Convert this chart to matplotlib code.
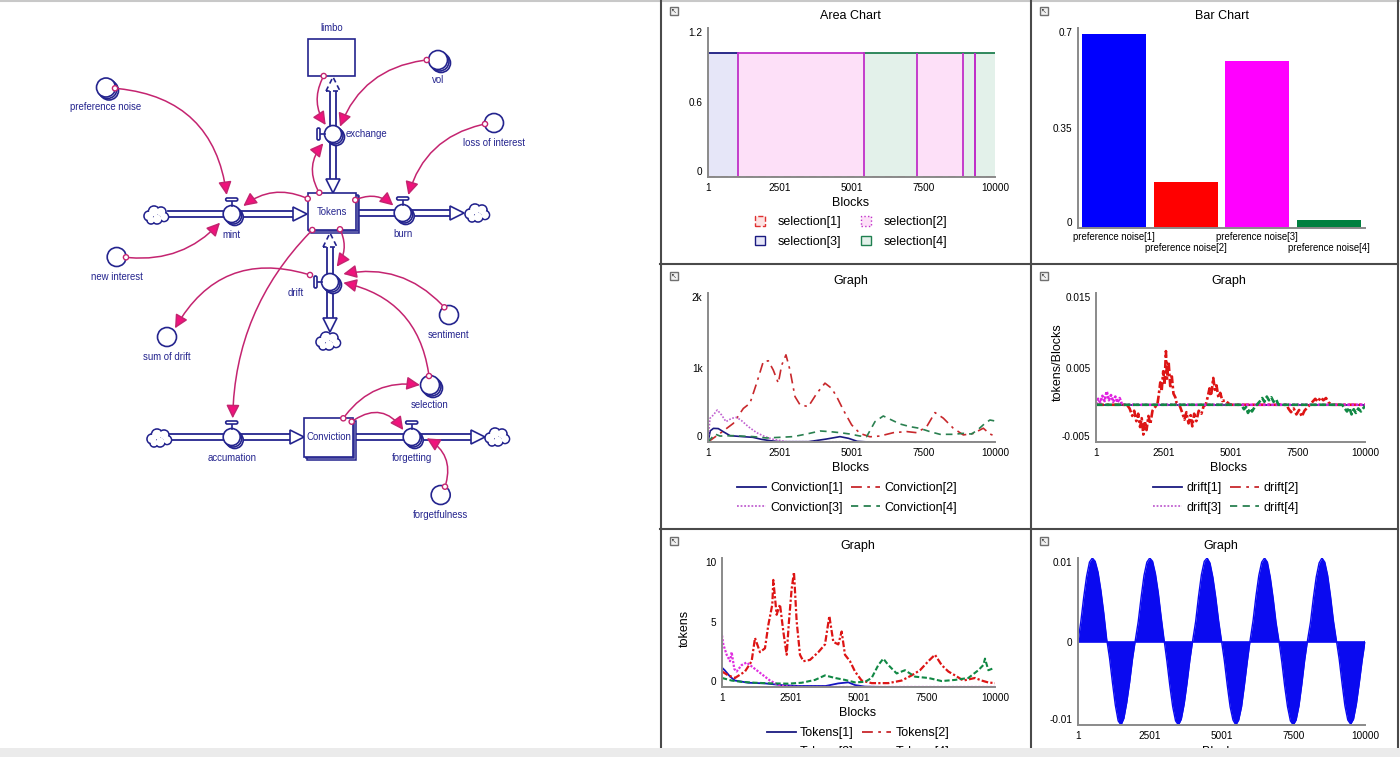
import numpy as np
import matplotlib.pyplot as plt
import matplotlib.transforms as mtransforms
from matplotlib.patches import Circle, Rectangle, Polygon, FancyArrowPatch, FancyBboxPatch, Patch
from matplotlib.lines import Line2D

plt.rcParams['font.family'] = ['Liberation Sans', 'DejaVu Sans']

# ---------------- data ----------------
block_ticks = [1, 2501, 5001, 7500, 10000]

# area chart: which selection is active from each block on
sel_x = [1, 1056, 5447, 7270, 8895, 9290, 9310, 10000]
sel1 = [0, 0, 0, 0, 0, 0, 0, 0]
sel2 = [0, 1, 0, 1, 0, 1, 0, 0]
sel3 = [1, 0, 0, 0, 0, 0, 0, 0]
sel4 = [0, 0, 1, 0, 1, 0, 1, 1]

bar_labels = ['preference noise[1]', 'preference noise[2]', 'preference noise[3]', 'preference noise[4]']
bar_vals = [0.678, 0.162, 0.585, 0.029]

conv1_x = [1, 80, 190, 360, 530, 770, 1200, 1560, 1860, 2160, 2500, 3500, 4130, 4600, 4900, 5200, 5600, 10000]
conv1_y = [0, 150, 183, 180, 139, 85, 72, 63, 36, 18, 4, 4, 40, 72, 49, 9, 0, 0]
conv2_x = [1, 418, 883, 1231, 1463, 1696, 1928, 2102, 2276, 2450, 2567, 2717, 2857, 3031, 3205, 3496, 3786,
           4076, 4308, 4483, 4715, 5005, 5295, 5644, 5992, 6457, 6921, 7270, 7618, 7909, 8199, 8547, 8896,
           9244, 9592, 9824, 10000]
conv2_y = [0, 115, 250, 450, 520, 790, 1080, 1090, 965, 790, 1030, 1170, 965, 610, 500, 475, 650,
           790, 720, 610, 430, 230, 115, 70, 80, 125, 140, 125, 205, 395, 320, 185, 95,
           115, 185, 107, 80]
conv3_x = [1, 70, 186, 325, 476, 627, 824, 999, 1173, 1405, 1696, 1986, 2276, 2741, 10000]
conv3_y = [0, 318, 362, 430, 362, 273, 318, 331, 286, 206, 125, 72, 36, 4, 0]
conv4_x = [1, 244, 418, 883, 1579, 2044, 2508, 2973, 3437, 3902, 4250, 4599, 4947, 5296, 5528, 5818, 6108,
           6399, 6689, 7037, 7386, 7734, 8083, 8547, 8896, 9186, 9418, 9650, 9824, 10000]
conv4_y = [0, 107, 80, 85, 72, 54, 63, 72, 107, 148, 139, 125, 107, 80, 72, 273, 349,
           295, 242, 206, 183, 139, 103, 103, 116, 107, 170, 250, 295, 282]

# drift values in thousandths
drift2_x = [1, 1150, 1250, 1350, 1420, 1500, 1570, 1640, 1700, 1760, 1820, 1880, 1950, 2020, 2100, 2200,
            2280, 2330, 2390, 2440, 2500, 2550, 2600, 2640, 2700, 2760, 2820, 2880, 2950, 3000, 3100,
            3200, 3290, 3360, 3440, 3520, 3580, 3650, 3730, 3820, 3920, 4000, 4080, 4150, 4220, 4280,
            4360, 4420, 4480, 4550, 4620, 4700, 4800, 4950, 5050, 7100, 7150, 7250, 7350, 7450, 7550,
            7650, 7750, 7850, 7950, 8050, 8150, 8250, 8350, 8450, 8550, 8650, 8760, 10000]
drift2_y = [0, 0, -0.5, -1.5, -0.8, -2.2, -1.2, -3.0, -1.8, -4.0, -2.2, -3.4, -1.5, -2.6, -0.8, -0.3,
            0, 1.2, 3.0, 1.8, 4.5, 2.8, 7.2, 3.5, 5.8, 2.5, 3.8, 1.5, 1.0, 0.2, 0,
            -1.0, -2.0, -1.0, -2.5, -1.4, -2.9, -1.2, -2.2, -0.8, -1.2, -0.2, 0, 1.0, 2.2, 1.2,
            3.6, 2.0, 2.6, 1.0, 1.6, 0.5, 0.6, 0.1, 0, 0, -0.5, -1.0, -0.5, -1.3, -0.7,
            -1.6, -0.8, -0.4, 0, 0.4, 0.8, 0.4, 1.0, 0.6, 0.9, 0.3, 0, 0]
drift3_x = [1, 80, 160, 240, 320, 400, 480, 560, 640, 720, 800, 880, 950, 1000, 10000]
drift3_y = [0, 0.8, 0.3, 1.2, 0.5, 1.8, 0.6, 1.3, 0.4, 1.1, 0.3, 0.9, 0.2, 0, 0]
drift4_x = [1, 5400, 5500, 5580, 5650, 5730, 5800, 5900, 5980, 6100, 6180, 6260, 6350, 6430, 6520, 6600,
            6700, 6780, 9150, 9250, 9330, 9420, 9500, 9580, 9660, 9750, 9850, 9950, 10000]
drift4_y = [0, 0, -0.6, -0.3, -1.1, -0.5, -0.9, -0.3, 0, 0.5, 0.9, 0.4, 1.1, 0.6, 1.0, 0.4,
            0.7, 0, 0, -0.5, -0.9, -0.4, -1.3, -0.6, -1.1, -0.5, -0.9, -0.4, -0.2]
drift1_x = [1, 10000]
drift1_y = [0, 0]

tok1_x = [1, 100, 300, 476, 964, 1575, 2186, 2800, 3800, 4261, 4627, 4872, 5238, 6000, 10000]
tok1_y = [1.5, 1.3, 0.8, 0.5, 0.33, 0.28, 0.15, 0.08, 0.08, 0.28, 0.36, 0.15, 0.03, 0, 0]
tok2_x = [1, 232, 476, 842, 1087, 1209, 1392, 1575, 1697, 1844, 1880, 2002, 2125, 2247, 2369, 2454,
          2552, 2637, 2735, 2857, 2979, 3223, 3529, 3773, 3932, 4078, 4261, 4383, 4505, 4689, 4872,
          5116, 5482, 6093, 6581, 6947, 7253, 7558, 7802, 8046, 8291, 8535, 8840, 9267, 9511, 9756, 10000]
tok2_y = [1.2, 0.9, 0.7, 1.2, 2.0, 3.8, 2.7, 3.0, 4.8, 6.4, 8.3, 5.6, 6.4, 4.3, 2.5, 5.1,
          7.6, 8.9, 5.1, 2.5, 2.0, 2.1, 2.7, 3.3, 5.5, 3.5, 3.3, 4.3, 2.5, 2.0, 1.2,
          0.5, 0.3, 0.3, 0.5, 0.9, 1.3, 2.0, 2.5, 1.7, 1.2, 0.9, 0.5, 0.7, 0.5, 0.35, 0.3]
tok3_x = [1, 50, 171, 293, 354, 452, 537, 720, 903, 1087, 1270, 1514, 1758, 2063, 2430, 3000, 10000]
tok3_y = [4.0, 3.3, 2.5, 2.0, 2.7, 1.4, 1.2, 1.7, 1.9, 1.6, 1.3, 0.9, 0.5, 0.15, 0.03, 0, 0]
tok4_x = [1, 354, 720, 1209, 1819, 2430, 2918, 3407, 3773, 4139, 4505, 4872, 5238, 5482, 5726, 5910,
          6093, 6398, 6703, 7070, 7558, 8046, 8535, 9023, 9389, 9572, 9633, 9756, 9939]
tok4_y = [0.7, 0.5, 0.4, 0.33, 0.28, 0.26, 0.33, 0.55, 0.9, 0.7, 0.55, 0.36, 0.4, 0.7, 1.7, 2.2,
          1.7, 1.05, 1.3, 0.8, 0.7, 0.46, 0.55, 0.7, 1.3, 1.7, 2.2, 1.3, 1.45]

# last graph, every 100 blocks, in thousandths
wave_y = [0, 2.4, 5.3, 7.8, 9.5, 10.0, 9.6, 8.3, 6.1, 3.4, 0.3,
          -2.0, -4.9, -7.6, -9.5, -10.0, -9.2, -7.3, -4.9, -2.1, 0.2,
          2.4, 5.3, 7.9, 9.5, 10.0, 9.6, 8.1, 5.8, 2.9, 0.2,
          -2.4, -5.3, -7.8, -9.5, -10.0, -9.3, -7.5, -5.0, -2.2, 0.2,
          2.4, 5.4, 8.0, 9.6, 10.0, 9.4, 7.7, 5.3, 2.5, 0.1,
          -2.3, -5.2, -7.8, -9.4, -10.0, -9.4, -7.8, -5.2, -2.4, 0.2,
          2.5, 5.4, 7.9, 9.5, 10.0, 9.5, 7.7, 5.2, 2.3, 0.1,
          -2.4, -5.3, -7.8, -9.5, -10.0, -9.4, -7.7, -5.1, -2.2, 0.2,
          2.3, 5.2, 7.7, 9.4, 10.0, 9.5, 7.9, 5.4, 2.5, 0.2,
          -2.1, -5.0, -7.7, -9.4, -9.9, -9.3, -7.5, -5.0, -2.3, 0]

# ---------------- figure ----------------
W, H = 1400, 757
fig = plt.figure(figsize=(14, 7.57), dpi=100)

def box(l, t, r, b):
    return [l / W, 1 - b / H, (r - l) / W, (b - t) / H]

def ftext(x, y, s, size=9, **kw):
    fig.text(x / W, 1 - y / H, s, fontsize=size, ha=kw.pop('ha', 'center'), va=kw.pop('va', 'center'), **kw)

d = fig.add_axes([0, 0, 1, 1])
d.set_xlim(0, W)
d.set_ylim(H, 0)
d.axis('off')

NAVY = '#24248e'
LINK = '#c42470'
HEAD = '#f0127c'
LAB = 6.9

def circ(x, y, r, z, fc='white', ec=NAVY, lw=1.2):
    d.add_patch(Circle((x, y), r, fc=fc, ec=ec, lw=lw, zorder=z))

def aux(x, y, label, stacked=False):
    if stacked:
        circ(x + 3, y + 3, 9.5, 3)
        circ(x + 1.5, y + 1.5, 9.5, 3.1)
    circ(x, y, 9.5, 3.2)
    d.text(x, y + 20, label, fontsize=LAB, color=NAVY, ha='center', va='center')

def valve(x, y, handle, label, lx=None, ly=None, ha='center'):
    circ(x + 3, y + 3, 8.5, 4)
    circ(x + 1.5, y + 1.5, 8.5, 4.1)
    circ(x, y, 8.5, 4.2)
    if handle == 'top':
        d.plot([x, x], [y - 8.5, y - 13], color=NAVY, lw=1.2, zorder=4.3)
        d.add_patch(FancyBboxPatch((x - 6, y - 16), 12, 3, boxstyle='round,pad=0,rounding_size=1.5',
                                   fc='white', ec=NAVY, lw=1.2, zorder=4.3))
    else:
        d.plot([x - 8.5, x - 13], [y, y], color=NAVY, lw=1.2, zorder=4.3)
        d.add_patch(FancyBboxPatch((x - 16, y - 6), 3, 12, boxstyle='round,pad=0,rounding_size=1.5',
                                   fc='white', ec=NAVY, lw=1.2, zorder=4.3))
    d.text(x if lx is None else lx, y + 21 if ly is None else ly, label, fontsize=LAB, color=NAVY,
           ha=ha, va='center')

def stock(l, t, r, b, label, stacked=True, above=False):
    if stacked:
        for o, z in [(3, 3), (1.5, 3.1)]:
            d.add_patch(Rectangle((l + o, t + o), r - l, b - t, fc='white', ec=NAVY, lw=1.1, zorder=z))
    d.add_patch(Rectangle((l, t), r - l, b - t, fc='white', ec=NAVY, lw=1.2, zorder=3.2))
    if above:
        d.text((l + r) / 2, t - 11, label, fontsize=LAB, color=NAVY, ha='center', va='center')
    else:
        d.text((l + r) / 2, (t + b) / 2, label, fontsize=LAB, color=NAVY, ha='center', va='center', zorder=3.3)

def pipe(x0, y0, x1, y1, gap=2.6):
    if y0 == y1:
        for s in (-gap, gap):
            d.plot([x0, x1], [y0 + s, y1 + s], color=NAVY, lw=1.3, zorder=2)
    else:
        for s in (-gap, gap):
            d.plot([x0 + s, x1 + s], [y0, y1], color=NAVY, lw=1.3, zorder=2)

def head(x, y, direction, dashed=False):
    L, Wd = 14, 7
    if direction == 'right':
        pts = [(x - L, y - Wd), (x, y), (x - L, y + Wd)]
    elif direction == 'down':
        pts = [(x - Wd, y - L), (x, y), (x + Wd, y - L)]
    else:
        pts = [(x - Wd, y + L), (x, y), (x + Wd, y + L)]
    d.add_patch(Polygon(pts, closed=True, fc='white', ec=NAVY, lw=1.2,
                        ls=(0, (3, 2)) if dashed else '-', zorder=2.5))

cloud_bumps = [(-7, 1, 5), (-2, -3.5, 5.5), (5, -3, 5), (8, 2, 4.5), (1, 4, 5), (-5, 5, 4)]

def cloud(x, y):
    for dx, dy, r in cloud_bumps:
        circ(x + dx, y + dy, r, 2.6)
    for dx, dy, r in cloud_bumps:
        circ(x + dx, y + dy, r - 0.9, 2.7, ec='none')

def link(a, b, rad):
    d.add_patch(FancyArrowPatch(a, b, connectionstyle=f'arc3,rad={rad}',
                                arrowstyle='-|>,head_length=0.8,head_width=0.4', mutation_scale=10,
                                ec=LINK, fc=HEAD, lw=1.1, shrinkA=2.5, shrinkB=0, zorder=5))
    d.add_patch(Circle(a, 2.6, fc='white', ec=LINK, lw=1, zorder=6))

# stocks
stock(307.7, 39.3, 355.3, 76, 'limbo', stacked=False, above=True)
stock(307.7, 193.3, 356, 230, 'Tokens')
stock(304.3, 418.3, 352.7, 456.7, 'Conviction')

# flows
pipe(168, 214, 294, 214); head(307, 214, 'right'); cloud(156, 215)
valve(231.7, 214, 'top', 'mint')
pipe(356, 213, 450, 213); head(464, 213, 'right'); cloud(477, 213)
valve(402.7, 213, 'top', 'burn')
pipe(333, 89, 333, 180); head(333, 193, 'down'); head(333, 77, 'up', dashed=True)
valve(333, 134, 'left', 'exchange', lx=346, ly=134, ha='left')
pipe(330, 245, 330, 318); head(330, 332, 'down'); head(330, 233, 'up', dashed=True); cloud(328, 341)
valve(330, 282, 'left', 'drift', lx=296, ly=293)
pipe(170, 437, 291, 437); head(304, 437, 'right'); cloud(159, 438)
valve(231.7, 437, 'top', 'accumation')
pipe(352.7, 437, 472, 437); head(485, 437, 'right'); cloud(497, 437)
valve(411.7, 437, 'top', 'forgetting')

# auxiliaries
aux(106, 87.5, 'preference noise', stacked=True)
aux(438, 60, 'vol', stacked=True)
aux(494, 123, 'loss of interest')
aux(116.7, 257, 'new interest')
aux(449, 315, 'sentiment')
aux(167, 337, 'sum of drift')
aux(430, 385, 'selection', stacked=True)
aux(440.7, 495, 'forgetfulness')

# connectors
link((115, 88.3), (226.7, 195), -0.4)
link((126, 257.3), (220, 222.7), 0.25)
link((426.7, 60), (340, 126.7), 0.3)
link((323.7, 76), (325.7, 125), 0.3)
link((319.3, 192.7), (323.3, 143.3), -0.35)
link((307.7, 198.7), (243.3, 206), 0.3)
link((355.3, 200), (393.3, 205.5), -0.32)
link((485, 124), (408.3, 195), 0.3)
link((340, 229.3), (336.7, 266.7), -0.3)
link((312.3, 230), (232.7, 418.3), 0.2)
link((310, 275), (175, 328.3), 0.4)
link((444.3, 307.3), (343.3, 274), 0.28)
link((429, 376), (343.3, 282.7), 0.35)
link((343.3, 418.3), (420, 385), -0.3)
link((351.7, 421.7), (403.3, 430), -0.5)
link((445, 486.7), (426.7, 438.3), 0.4)

# panel frame
d.plot([0, W], [1, 1], color='#c8c8c8', lw=1.5)
for x in (660.5, 1031, 1398):
    d.plot([x, x], [0, H], color='#4a4a4a', lw=1.5)
for y in (263.5, 528.5):
    d.plot([660, 1398], [y, y], color='#4a4a4a', lw=1.5)
for x, y in [(670, 7), (1040, 7), (670, 272), (1040, 272), (670, 537), (1040, 537)]:
    d.add_patch(Rectangle((x, y), 8, 8, fc='#f2f2f2', ec='#707070', lw=1))
    d.text(x + 4, y + 4, '↖', fontsize=5, ha='center', va='center', color='#404040')

# ---------------- charts ----------------
def chart_ax(l, t, r, b):
    ax = fig.add_axes(box(l, t, r, b))
    for s in ('top', 'right'):
        ax.spines[s].set_visible(False)
    for s in ('left', 'bottom'):
        ax.spines[s].set_color('#8a8a8a')
        ax.spines[s].set_linewidth(1.4)
    ax.tick_params(length=0, labelsize=7.2, pad=4)
    ax.set_facecolor('none')
    return ax

def blocks_axis(ax):
    ax.set_xlim(1, 10000)
    ax.set_xticks(block_ticks, [str(v) for v in block_ticks])

def y_axis(ax, ticks, labels):
    ax.set_ylim(ticks[0], ticks[-1])
    ax.set_yticks(ticks, labels)
    tl = ax.get_yticklabels()
    tl[0].set_va('bottom')
    tl[-1].set_va('top')

def legend(ax, handles, labels, cx, ty, **kw):
    ax.legend(handles, labels, ncol=2, loc='upper center', bbox_to_anchor=(cx / W, 1 - ty / H),
              bbox_transform=fig.transFigure, frameon=False, fontsize=9, borderpad=0,
              borderaxespad=0, **kw)

def line_handles():
    return [Line2D([], [], color=C_NAVY, lw=1.3), Line2D([], [], color=C_MAG, lw=1.3, ls=(0, (1, 1))),
            Line2D([], [], color=C_RED, lw=1.3, ls=(0, (6, 3, 1.5, 3))),
            Line2D([], [], color=C_GRN, lw=1.3, ls=(0, (4, 3)))]

C_NAVY, C_RED, C_MAG, C_GRN = '#1a1a80', '#c8282c', '#c060d0', '#2a8050'

# Area chart
ax = chart_ax(708, 28, 995, 177)
x = np.array(sel_x)
s = [np.array(v, dtype=float) for v in (sel1, sel2, sel3, sel4)]
cum = np.cumsum(s, axis=0)
fills = ['#fde3e3', '#fde0f8', '#e6e6f8', '#e3f1ea']
edges = ['#e03030', '#c030c8', '#1a1a80', '#208050']
for k in range(4):
    lower = cum[k - 1] if k else np.zeros_like(x, dtype=float)
    ax.fill_between(x, lower, cum[k], step='post', facecolor=fills[k], lw=0)
first4 = np.argmax(s[3] > 0)
ax.step(x[first4:], cum[3][first4:], where='post', color=edges[3], lw=1.3)
for k in (2, 1):
    top = np.where(s[k] > 0, cum[k], np.nan)
    top[first4:] = np.nan
    ax.step(x, top, where='post', color=edges[k], lw=1.3)
change = x[1:][np.diff(s[1]) != 0]
ax.vlines(change, 0, 1, color=edges[1], lw=1.3)
ax.step(x, cum[0], where='post', color=edges[0], lw=1.3, ls=(0, (4, 3)))
blocks_axis(ax)
y_axis(ax, [0, 0.6, 1.2], ['0', '0.6', '1.2'])
ftext(850.7, 16, 'Area Chart')
ftext(851, 203, 'Blocks')
hs = [Patch(fc=fills[0], ec=edges[0], ls='--'), Patch(fc=fills[2], ec=edges[2]),
      Patch(fc=fills[1], ec=edges[1], ls=':'), Patch(fc=fills[3], ec=edges[3])]
legend(ax, hs, ['selection[1]', 'selection[3]', 'selection[2]', 'selection[4]'], 851, 216,
       handlelength=0.8, handleheight=0.8, handletextpad=1.0, columnspacing=1.6, labelspacing=0.6)

# Bar chart
ax = chart_ax(1078, 28, 1365, 228)
ax.bar(range(4), bar_vals, width=0.89, color=['#0000ff', '#ff0000', '#ff00ff', '#008040'])
ax.set_xlim(-0.5, 3.5)
ax.set_xticks(range(4), [''] * 4)
trans = mtransforms.blended_transform_factory(ax.transData, ax.transAxes)
for i, lab in enumerate(bar_labels):
    ax.text(i, -0.02 if i % 2 == 0 else -0.075, lab, transform=trans, ha='center', va='top', fontsize=6.9)
y_axis(ax, [0, 0.35, 0.7], ['0', '0.35', '0.7'])
ftext(1221.7, 16, 'Bar Chart')

# Conviction
ax = chart_ax(708, 293, 995, 442)
ax.plot(conv1_x, conv1_y, color=C_NAVY, lw=1.2)
ax.plot(conv2_x, conv2_y, color=C_RED, lw=1.2, ls=(0, (6, 3, 1.5, 3)))
ax.plot(conv3_x, conv3_y, color=C_MAG, lw=1.2, ls=(0, (1, 1)))
ax.plot(conv4_x, conv4_y, color=C_GRN, lw=1.2, ls=(0, (4, 3)))
blocks_axis(ax)
y_axis(ax, [0, 1000, 2000], ['0', '1k', '2k'])
ftext(850.7, 281, 'Graph')
ftext(851, 468, 'Blocks')
legend(ax, line_handles(), ['Conviction[1]', 'Conviction[3]', 'Conviction[2]', 'Conviction[4]'], 847, 482,
       handlelength=2.3, handletextpad=0.35, columnspacing=0.7, labelspacing=0.6)

# drift
ax = chart_ax(1096, 293, 1365, 442)
k = 1e-3
ax.plot(drift1_x, np.array(drift1_y) * k, color=C_NAVY, lw=1.2)
ax.plot(drift2_x, np.array(drift2_y) * k, color='#dd1515', lw=1.9, ls=(0, (3, 1, 1, 1)))
ax.plot(drift3_x, np.array(drift3_y) * k, color='#e020e0', lw=1.9, ls=(0, (1, 0.6)))
ax.plot(drift4_x, np.array(drift4_y) * k, color='#118844', lw=1.9, ls=(0, (2.5, 1)))
blocks_axis(ax)
y_axis(ax, [-0.005, 0.005, 0.015], ['-0.005', '0.005', '0.015'])
ftext(1229, 281, 'Graph')
ftext(1229, 468, 'Blocks')
ftext(1058, 362, 'tokens/Blocks', rotation=90)
legend(ax, line_handles(), ['drift[1]', 'drift[3]', 'drift[2]', 'drift[4]'], 1226, 482,
       handlelength=2.3, handletextpad=0.35, columnspacing=0.7, labelspacing=0.6)

# Tokens
ax = chart_ax(722, 558, 995, 687)
ax.axhline(0, color='#eea050', lw=1.3)
ax.plot(tok1_x, tok1_y, color='#1515c0', lw=1.3)
ax.plot(tok2_x, tok2_y, color='#dd1515', lw=1.6, ls=(0, (3, 1, 1, 1)))
ax.plot(tok3_x, tok3_y, color='#e030e0', lw=1.6, ls=(0, (1, 0.7)))
ax.plot(tok4_x, tok4_y, color='#118844', lw=1.5, ls=(0, (2.5, 1.2)))
blocks_axis(ax)
y_axis(ax, [0, 5, 10], ['0', '5', '10'])
ftext(858, 546, 'Graph')
ftext(858, 713, 'Blocks')
ftext(685, 628, 'tokens', rotation=90)
legend(ax, line_handles(), ['Tokens[1]', 'Tokens[3]', 'Tokens[2]', 'Tokens[4]'], 858, 727,
       handlelength=2.3, handletextpad=0.35, columnspacing=0.7, labelspacing=0.6)

# last graph
ax = chart_ax(1078, 558, 1365, 725)
wx = np.arange(0, 10001, 100)
wy = np.array(wave_y) * 1e-3
ax.fill_between(wx, 0, wy, color='#0a0af0', lw=0)
ax.plot(wx, wy, color='#0a0af0', lw=1.0)
ax.axhline(0, color='#0a0af0', lw=1.2)
blocks_axis(ax)
y_axis(ax, [-0.01, 0, 0.01], ['-0.01', '0', '0.01'])
ftext(1220.7, 546, 'Graph')
ftext(1221, 752, 'Blocks')

# bottom grey strip of the screenshot
fig.add_artist(Rectangle((0, 0), 1, 9 / H, transform=fig.transFigure, fc='#ebebeb', ec='none', zorder=20))

fig.savefig('out.png', dpi=100)
